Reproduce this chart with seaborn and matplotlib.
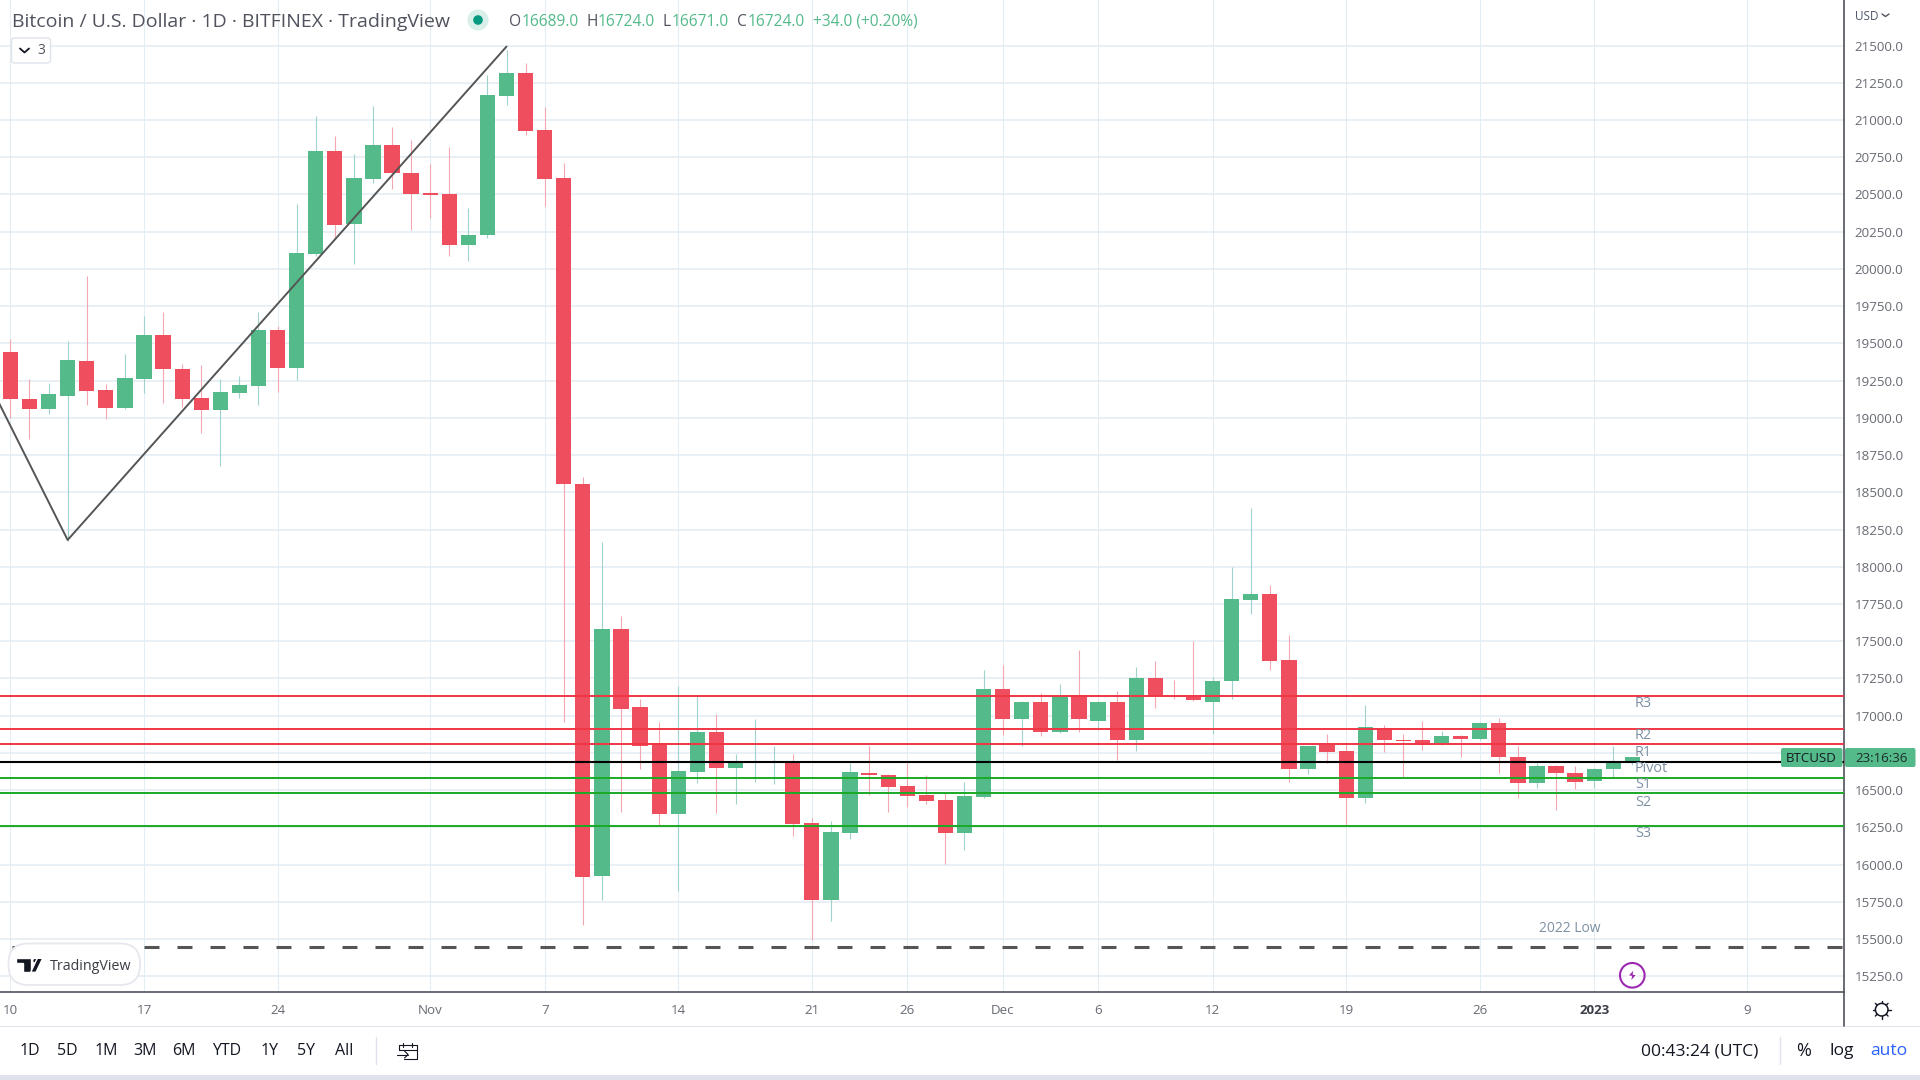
import numpy as np
import pandas as pd
import seaborn as sns
import matplotlib.pyplot as plt
from matplotlib.patches import Circle, FancyBboxPatch, Polygon, Rectangle
from matplotlib.ticker import FuncFormatter

# daily BTCUSD candles, 10 Oct 2022 to 3 Jan 2023
open_prices = [19440, 19125, 19060, 19145, 19385, 19190, 19065, 19260, 19555, 19330,
               19130, 19050, 19165, 19215, 19590, 19335, 20100, 20795, 20300, 20605,
               20830, 20645, 20510, 20505, 20160, 20225, 21160, 21315, 20930, 20610,
               18555, 15925, 17585, 17060, 16820, 16340, 16620, 16890, 16650, 16680,
               16680, 16690, 16280, 15760, 16215, 16615, 16605, 16525, 16465, 16435,
               16210, 16455, 17180, 16980, 17095, 16890, 17140, 16965, 17095, 16840,
               17250, 17135, 17125, 17095, 17230, 17780, 17820, 17375, 16645, 16805,
               16760, 16445, 16915, 16840, 16840, 16815, 16865, 16845, 16950, 16720,
               16550, 16660, 16615, 16565, 16640, 16689]
high_prices = [19530, 19260, 19235, 19515, 19950, 19225, 19430, 19685, 19710, 19360,
               19355, 19260, 19280, 19710, 19615, 20435, 21025, 20890, 20770, 21095,
               20950, 20865, 20705, 20820, 20410, 21300, 21470, 21380, 21085, 20710,
               18605, 18165, 17670, 17110, 16960, 17200, 17130, 17010, 16740, 16980,
               16800, 16745, 16310, 16295, 16685, 16800, 16610, 16685, 16605, 16490,
               16555, 17305, 17340, 17100, 17150, 17215, 17440, 17100, 17165, 17325,
               17370, 17240, 17505, 17260, 18000, 18395, 17875, 17545, 16800, 16875,
               16820, 17070, 16935, 16875, 16965, 16895, 16870, 16955, 16985, 16800,
               16680, 16670, 16665, 16650, 16800, 16724]
low_prices = [19000, 18855, 19025, 18170, 19085, 18990, 19060, 19165, 19100, 19075,
              18900, 18675, 19130, 19085, 19175, 19255, 20085, 20210, 20030, 20580,
              20535, 20260, 20340, 20085, 20055, 20210, 21100, 20900, 20425, 16955,
              15595, 15765, 16355, 16640, 16265, 15825, 16545, 16350, 16410, 16555,
              16540, 16190, 15495, 15620, 16170, 16465, 16355, 16390, 16410, 16005,
              16100, 16450, 16870, 16795, 16865, 16885, 16890, 16905, 16705, 16760,
              17055, 17110, 17100, 16880, 17110, 17680, 17305, 16555, 16610, 16680,
              16265, 16415, 16755, 16585, 16770, 16805, 16725, 16840, 16615, 16445,
              16515, 16365, 16510, 16515, 16590, 16671]
close_prices = [19125, 19060, 19160, 19390, 19180, 19065, 19265, 19555, 19330, 19125,
                19050, 19175, 19220, 19590, 19335, 20105, 20795, 20295, 20610, 20830,
                20645, 20505, 20495, 20160, 20230, 21165, 21315, 20925, 20605, 18555,
                15920, 17585, 17045, 16800, 16340, 16630, 16890, 16650, 16690, 16687,
                16687, 16275, 15760, 16220, 16620, 16605, 16520, 16460, 16430, 16210,
                16460, 17180, 16975, 17095, 16890, 17130, 16975, 17095, 16840, 17250,
                17130, 17125, 17105, 17230, 17785, 17815, 17370, 16640, 16795, 16755,
                16445, 16925, 16840, 16830, 16805, 16865, 16845, 16950, 16720, 16550,
                16660, 16615, 16555, 16645, 16690, 16724]

price_ticks = [15250 + 250 * i for i in range(26)]
hidden_price_tick = 16750  # sits under the last price tag in the screenshot
date_tick_days = [0, 7, 14, 22, 28, 35, 42, 47, 52, 57, 63, 70, 77, 83, 91]
date_tick_labels = ['10', '17', '24', 'Nov', '7', '14', '21', '26', 'Dec', '6', '12', '19', '26', '2023', '9']

resistance_levels = [17135, 16913, 16807]
pivot_level = 16691
support_levels = [16585, 16479, 16259]
low_2022 = 15447
zigzag_days = [-0.6, 3, 26]
zigzag_prices = [19100, 18180, 21493]

UP = '#54ba8a'
DOWN = '#ef4e5f'
UP_WICK = '#9fd3cb'
DOWN_WICK = '#f4a7b1'
GRID = '#e2ecf3'
AXIS = '#50535e'
LABEL = '#686b74'
DARK = '#131722'
NOTE = '#7d90a3'
FONT = ['Open Sans', 'DejaVu Sans']

sns.set_theme(style='white')
plt.rcParams['font.family'] = FONT

df = pd.DataFrame({'open': open_prices, 'high': high_prices, 'low': low_prices, 'close': close_prices})
df['day'] = range(len(df))
df['bottom'] = df[['open', 'close']].min(axis=1)
df['body'] = (df['open'] - df['close']).abs()
rising = df[df['close'] >= df['open']]
falling = df[df['close'] < df['open']]

fig = plt.figure(figsize=(19.2, 10.8), dpi=100)
ax = fig.add_axes([0, 88 / 1080, 1843.6 / 1920, 992 / 1080])

# wicks first, bodies on top
ax.vlines(rising['day'], rising['low'], rising['high'], color=UP_WICK, lw=0.8, zorder=2)
ax.vlines(falling['day'], falling['low'], falling['high'], color=DOWN_WICK, lw=0.8, zorder=2)
sns.barplot(data=rising, x='day', y='body', bottom=rising['bottom'], native_scale=True, color=UP,
            saturation=1, width=0.8, errorbar=None, linewidth=0, zorder=3, ax=ax)
sns.barplot(data=falling, x='day', y='body', bottom=falling['bottom'], native_scale=True, color=DOWN,
            saturation=1, width=0.8, errorbar=None, linewidth=0, zorder=3, ax=ax)

sns.lineplot(x=zigzag_days, y=zigzag_prices, sort=False, color='#555555', lw=1.4, errorbar=None, zorder=5, ax=ax)

for level in resistance_levels:
    ax.axhline(level, color='#f23645', lw=1.4, zorder=6)
for level in support_levels:
    ax.axhline(level, color='#1aaa25', lw=1.4, zorder=6)
ax.axhline(pivot_level, color='black', lw=1.5, zorder=6)
ax.plot([0.08, 96.07], [low_2022, low_2022], color='#555555', lw=2.2, linestyle=(0, (4.9, 5.9)),
        dash_capstyle='butt', zorder=6)

ax.set_xlim(-0.545, 96.07)
ax.set_ylim(15145, 21805.5)
ax.set(xlabel='', ylabel='')
ax.yaxis.tick_right()
ax.set_yticks(price_ticks)
ax.yaxis.set_major_formatter(FuncFormatter(lambda v, pos: '' if v == hidden_price_tick else f'{v:.1f}'))
ax.set_xticks(date_tick_days)
ax.set_xticklabels(date_tick_labels)
ax.tick_params(axis='both', length=0, labelsize=9.6, labelcolor=LABEL)
ax.tick_params(axis='y', pad=8)
ax.tick_params(axis='x', pad=9)
for tick in ax.get_xticklabels():
    if tick.get_text() == '2023':
        tick.set_fontweight('bold')
        tick.set_color('#3c3f48')

ax.set_axisbelow(True)
ax.grid(axis='y', color=GRID, lw=1.1)
ax.grid(axis='x', color='#e3edf4', lw=0.75)
for side in ['top', 'left']:
    ax.spines[side].set_visible(False)
for side in ['bottom', 'right']:
    ax.spines[side].set_color(AXIS)
    ax.spines[side].set_linewidth(1.2)

# screenshot furniture, drawn in pixel coordinates on a see-through layer
ui = fig.add_axes([0, 0, 1, 1], facecolor='none')
ui.set_xlim(0, 1920)
ui.set_ylim(1080, 0)
ui.axis('off')


def label(x, y, text, color=DARK, size=11.5, ha='left', **kw):
    # open sans sits a little high when centred on its box
    ui.text(x, y + 1.5, text, color=color, fontsize=size, ha=ha, va='center', zorder=4, **kw)


def stroke(xs, ys, color=DARK, lw=1.1):
    ui.plot(xs, ys, color=color, lw=lw, solid_capstyle='round', zorder=3)


def rounded(x0, y0, x1, y1, face, edge='none', radius=3, lw=1.0):
    ui.add_patch(FancyBboxPatch((x0 + radius, y0 + radius), x1 - x0 - 2 * radius, y1 - y0 - 2 * radius,
                                boxstyle=f'round,pad={radius},rounding_size={radius}',
                                fc=face, ec=edge, lw=lw, zorder=0.5))


# header
label(12, 20.5, 'Bitcoin / U.S. Dollar · 1D · BITFINEX · TradingView', color='#50535e', size=14)
ui.add_patch(Circle((478, 20), 10.5, fc='#d8efea', ec='none'))
ui.add_patch(Circle((478, 20), 4.8, fc='#089981', ec='none'))
for x, text, color in [(509, 'O', '#50535e'), (522, '16689.0', UP), (586, 'H', '#50535e'), (598, '16724.0', UP),
                       (663, 'L', '#50535e'), (672, '16671.0', UP), (737, 'C', '#50535e'), (748, '16724.0', UP),
                       (813, '+34.0 (+0.20%)', UP)]:
    label(x, 20.5, text, color=color, size=11.2)

rounded(11.5, 38, 50.5, 63, 'white', edge='#dfe3eb')
stroke([20, 24.5, 29], [48.5, 52.5, 48.5], lw=1.3)
label(37, 49, '3', color='#50535e', size=10)

label(1855.5, 15, 'USD', color='#4a5568', size=8.5)
stroke([1882, 1885.5, 1889], [14, 16.5, 14], color='#50535e', lw=1.0)

# level names and notes
for y, text in [(702, 'R3'), (734, 'R2'), (751, 'R1'), (767, 'Pivot'), (783, 'S1'), (801, 'S2'), (832, 'S3')]:
    label(1635, y, text, color=NOTE, size=10.4)
label(1539, 927, '2022 Low', color=NOTE, size=10)

# last price tags
rounded(1781, 748, 1842.5, 767, UP, radius=2)
rounded(1845, 748, 1915.5, 767, UP, radius=2)
label(1811.5, 757, 'BTCUSD', size=9.5, ha='center')
label(1881, 757, '23:16:36', color='#1d2a2a', size=9.5, ha='center')

# TradingView badge
rounded(8.5, 943.5, 140, 985, 'white', edge='#e6e8ee', radius=20, lw=1.3)
ui.add_patch(Polygon([(16, 958.3), (30.7, 958.3), (30.7, 972.3), (23.3, 972.3), (23.3, 963.3), (16, 963.3)], fc=DARK))
ui.add_patch(Circle((35, 960.7), 2.4, fc=DARK))
ui.add_patch(Polygon([(37.3, 958.3), (42.7, 958.3), (36, 972.3), (30.7, 972.3)], fc=DARK))
label(50, 965, 'TradingView', color='#3a3d46', size=10.3)

# lightning marker
ui.add_patch(Circle((1632.3, 975.3), 12.3, fc='none', ec='#9c27b0', lw=1.5))
ui.add_patch(Polygon([(1634.5, 968.3), (1627.3, 976.3), (1631.3, 976.3), (1630.3, 982.3), (1637.3, 974.3),
                      (1633.3, 974.3)], fc='#9c27b0'))

# axis corner and bottom bar
stroke([1843.6, 1843.6], [992, 1026], color=AXIS, lw=1.2)
ui.add_patch(Rectangle((0, 1025.7), 1920, 1.6, fc='#e0e3eb', ec='none'))
ui.add_patch(Rectangle((0, 1075), 1920, 5, fc='#dfe2ec', ec='none'))
ui.add_patch(Circle((1881.7, 1009.7), 6.3, fc='none', ec=DARK, lw=1.1))
for angle in np.arange(0, 360, 45):
    dx, dy = np.cos(np.radians(angle)), np.sin(np.radians(angle))
    stroke([1881.7 + 6.3 * dx, 1881.7 + 9 * dx], [1009.7 + 6.3 * dy, 1009.7 + 9 * dy], lw=1.0)

for x, text in [(30, '1D'), (67.5, '5D'), (106, '1M'), (145, '3M'), (184, '6M'), (227, 'YTD'), (270, '1Y'),
                (306, '5Y'), (344.5, 'All')]:
    label(x, 1049.5, text, ha='center')
stroke([375.5, 375.5], [1037, 1064], color='#e0e3eb', lw=1.0)
stroke([399, 399, 416.5, 416.5, 404], [1050, 1045, 1045, 1059, 1059], lw=0.8)
stroke([399, 416.5], [1049.5, 1049.5], lw=0.8)
stroke([403, 403], [1042.5, 1046.5], lw=0.8)
stroke([411.5, 411.5], [1042.5, 1046.5], lw=0.8)
stroke([396.5, 408], [1054.5, 1054.5], lw=0.8)
stroke([404.5, 408, 404.5], [1051, 1054.5, 1058], lw=0.8)

label(1700, 1049.5, '00:43:24 (UTC)', ha='center', size=12.6)
stroke([1779.5, 1779.5], [1037, 1064], color='#e0e3eb', lw=1.0)
label(1804, 1049.5, '%', ha='center', size=13)
label(1842, 1049.5, 'log', ha='center', size=12.6)
label(1889, 1049.5, 'auto', color='#2962ff', ha='center', size=12.6)

fig.savefig('out.png', dpi=100)
